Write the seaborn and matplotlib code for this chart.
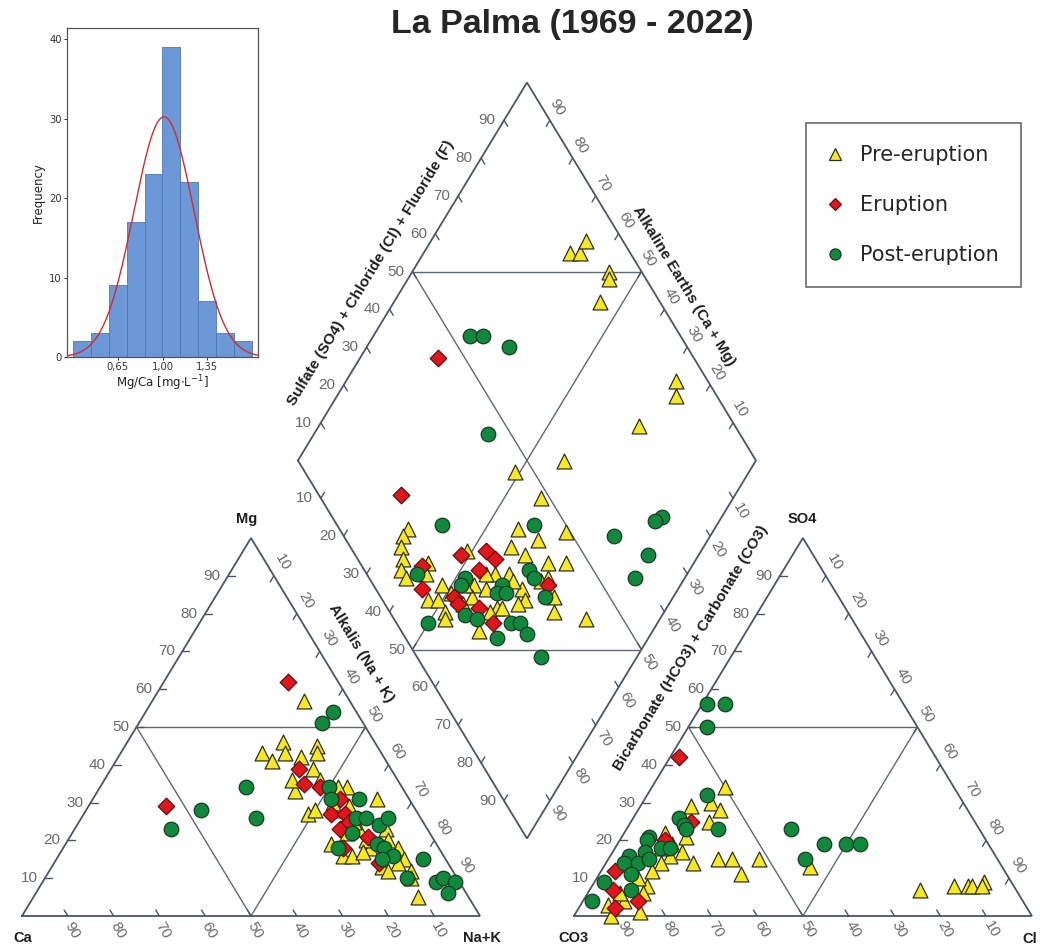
import numpy as np
import pandas as pd
import matplotlib
matplotlib.use("Agg")
import matplotlib.pyplot as plt
from matplotlib.lines import Line2D
import seaborn as sns

sns.set_style("white")
plt.rcParams["font.family"] = ["DejaVu Sans"]

# ---------------------------------------------------------------- data
# Mg/Ca ratio histogram (counts per bin)
mgca_bin_edges = [0.30, 0.44, 0.58, 0.72, 0.86, 1.00, 1.14, 1.28, 1.42, 1.56, 1.70]
mgca_counts = [2, 3, 9, 17, 23, 39, 22, 7, 3, 2]
mgca_ticks = [0.65, 1.00, 1.35]
mgca_tick_labels = ["0,65", "1,00", "1,35"]

# Cation triangle (% meq/L): Mg and Na+K (Ca = remainder)
pre_cat_mg = [57, 46, 43, 41, 43, 45, 43, 42, 39, 33, 36, 34, 34, 27, 28, 31, 19, 16, 16, 23,
              18, 15, 14, 5, 36, 29, 23, 18, 13, 25, 28, 20, 12, 30, 22, 17, 20, 12, 10]
pre_cat_nak = [33, 34, 31, 34, 36, 42, 43, 40, 44, 43, 47, 54, 52, 49, 50, 62, 58, 62, 64, 68,
               73, 76, 75, 84, 41, 57, 62, 67, 72, 60, 54, 65, 79, 53, 60, 66, 70, 74, 80]
eru_cat_mg = [62, 29, 39, 35, 34, 31, 27, 27, 23, 21, 14, 25, 18]
eru_cat_nak = [27, 17, 41, 44, 48, 54, 54, 57, 58, 65, 71, 59, 61]
post_cat_mg = [54, 51, 23, 28, 34, 26, 34, 31, 31, 26, 26, 24, 26, 22, 19, 18, 18, 16, 15, 15,
               10, 9, 10, 9, 6]
post_cat_nak = [41, 40, 21, 25, 32, 38, 50, 52, 58, 60, 62, 66, 67, 61, 68, 70, 60, 73, 71, 80,
                79, 86, 87, 90, 90]

# Anion triangle (% meq/L): SO4 and Cl (HCO3 + CO3 = remainder)
pre_an_so4 = [34, 30, 28, 25, 17, 14, 15, 15, 15, 11, 13, 7, 8, 8, 8, 9, 8, 8, 1, 29,
              21, 19, 16, 14, 0, 4, 12, 3, 6, 22, 18, 10, 6]
pre_an_cl = [16, 15, 18, 17, 15, 19, 24, 27, 33, 31, 45, 72, 79, 82, 83, 85, 85, 12, 14, 11,
             14, 12, 13, 12, 8, 9, 11, 6, 12, 9, 10, 9, 7]
eru_an_so4 = [42, 25, 20, 12, 7, 4, 2]
eru_an_cl = [2, 13, 10, 3, 5, 12, 8]
post_an_so4 = [56, 56, 50, 32, 23, 23, 19, 19, 19, 15, 26, 24, 23, 21, 20, 18, 17, 16, 14, 14,
               11, 15, 9, 7, 4, 18]
post_an_cl = [1, 5, 4, 13, 20, 36, 45, 50, 53, 43, 10, 12, 13, 6, 6, 10, 7, 4, 4, 7,
              7, 9, 2, 9, 2, 12]

# Central diamond (%): Na+K and SO4+Cl+F
pre_dia_nak = [32, 34, 34, 43, 44, 45, 72, 74, 70, 58, 49, 58, 68, 72, 84, 33, 33, 34, 36, 37,
               39, 42, 43, 47, 49, 52, 53, 49, 55, 58, 58, 61, 58, 57, 62, 63, 68, 66, 68, 67,
               63, 56, 55, 62, 74, 76, 69, 70, 64, 56, 48, 51, 63, 62, 53]
pre_dia_sc = [87, 89, 92, 93, 92, 87, 93, 91, 79, 58, 46, 48, 49, 45, 42, 15, 13, 11, 10, 8,
              8, 15, 13, 10, 12, 12, 11, 25, 22, 24, 28, 31, 35, 39, 37, 42, 41, 32, 31, 29,
              24, 20, 17, 17, 38, 36, 37, 39, 25, 26, 15, 16, 31, 22, 20]
eru_dia_nak = [17, 27, 48, 53, 56, 54, 41, 44, 52, 54, 59, 64, 71]
eru_dia_sc = [44, 18, 23, 29, 30, 25, 13, 10, 16, 16, 20, 21, 38]
post_dia_nak = [21, 24, 31, 38, 87, 86, 79, 89, 89, 79, 40, 60, 41, 52, 52, 61, 61, 63, 65, 67,
                72, 57, 60, 50, 68, 70, 73, 67]
post_dia_sc = [54, 57, 61, 45, 72, 70, 59, 64, 58, 27, 23, 43, 11, 21, 19, 28, 26, 28, 36, 36,
               36, 16, 18, 7, 25, 27, 27, 20]

tick_values = list(range(10, 100, 10))
group_labels = ["Pre-eruption", "Eruption", "Post-eruption"]

# ---------------------------------------------------------------- styling
YELLOW, RED, GREEN = "#f7e81f", "#e0161c", "#10893d"
EDGE = "#4c5562"
INNER = "#5f6874"
TICK_FONT = dict(family=["Liberation Sans Narrow", "Liberation Sans"], fontsize=11,
                 color="#6a6a6a")
TITLE_FONT = dict(family=["Liberation Sans", "DejaVu Sans"], fontweight="bold", color="#1e1e1e")

# ---------------------------------------------------------------- Piper geometry
H = np.sqrt(3) / 2          # triangle height (side = 1)
GAP = 0.205                 # spacing between the two triangles
PX_X = 458.0                # pixels per unit, horizontal
PX_Y = 378.0 / H            # pixels per unit, vertical


def cation_xy(mg, nak):
    mg = np.asarray(mg, float) / 100
    nak = np.asarray(nak, float) / 100
    return nak + mg / 2, H * mg


def anion_xy(so4, cl):
    so4 = np.asarray(so4, float) / 100
    cl = np.asarray(cl, float) / 100
    return 1 + GAP + cl + so4 / 2, H * so4


def diamond_xy(nak, sc):
    nak = np.asarray(nak, float) / 100
    sc = np.asarray(sc, float) / 100
    x0, y0 = 0.5 + GAP / 2, H * (1 + GAP)
    return x0 + 0.5 * sc + 0.5 * nak, y0 + H * sc - H * nak


def px_vec(dx, dy):
    """Screen offset in pixels (y down) -> data offset."""
    return dx / PX_X, -dy / PX_Y


def px_pos(px, py):
    return (px - 22) / PX_X, (916 - py) / PX_Y


fig = plt.figure(figsize=(10.4, 9.47), dpi=100)
ax = fig.add_axes([0, 0, 1, 1])
ax.set_xlim(-22 / PX_X, 1018 / PX_X)
ax.set_ylim(-31 / PX_Y, 916 / PX_Y)
ax.axis("off")


def outline(xy, lw=1.3, color=EDGE):
    ax.plot(xy[0], xy[1], color=color, lw=lw, zorder=1, solid_joinstyle="miter")


# outer frames
outline(cation_xy([0, 0, 100, 0], [0, 100, 0, 0]))
outline(anion_xy([0, 0, 100, 0], [0, 100, 0, 0]))
outline(diamond_xy([0, 0, 100, 100, 0], [0, 100, 100, 0, 0]))

# inner division lines
outline(cation_xy([50, 50], [0, 50]), lw=1.0, color=INNER)
outline(cation_xy([50, 0, 50], [0, 50, 50]), lw=1.0, color=INNER)
outline(anion_xy([50, 50], [0, 50]), lw=1.0, color=INNER)
outline(anion_xy([50, 0, 50], [0, 50, 50]), lw=1.0, color=INNER)
outline(diamond_xy([0, 50], [50, 100]), lw=1.0, color=INNER)
outline(diamond_xy([50, 100], [0, 50]), lw=1.0, color=INNER)
outline(diamond_xy([0, 100], [50, 50]), lw=1.0, color=INNER)
outline(diamond_xy([50, 50], [100, 0]), lw=1.0, color=INNER)

# ticks and tick labels
TICK_LEN = 7.0


def axis_ticks(xy, tick_dir, label_shift, rotation):
    tdx, tdy = px_vec(tick_dir[0] * TICK_LEN, tick_dir[1] * TICK_LEN)
    ldx, ldy = px_vec(*label_shift)
    for x, y, v in zip(xy[0], xy[1], tick_values):
        ax.plot([x, x + tdx], [y, y + tdy], color=EDGE, lw=1.0, zorder=1)
        ax.text(x + ldx, y + ldy, str(v), rotation=rotation, ha="center", va="center",
                rotation_mode="anchor", **TICK_FONT)


v = np.array(tick_values)
DL, UL, DR, UR = (-0.518, 0.855), (-0.518, -0.855), (0.518, 0.855), (0.518, -0.855)

# cation triangle: Mg (left), Na+K (right), Ca (base)
axis_ticks(cation_xy(v, 0 * v), (1, 0), (-16, 0), 0)
axis_ticks(cation_xy(100 - v, v), DL, (9, -13), -60)
axis_ticks(cation_xy(0 * v, 100 - v), UL, (4, 14), -60)
# anion triangle: SO4 (left), Cl (right), HCO3 (base)
axis_ticks(anion_xy(v, 0 * v), (1, 0), (-16, 0), 0)
axis_ticks(anion_xy(100 - v, v), DL, (9, -13), -60)
axis_ticks(anion_xy(0 * v, 100 - v), UL, (5, 13), -60)
# diamond edges
axis_ticks(diamond_xy(0 * v, v), DR, (-17, 0), 0)
axis_ticks(diamond_xy(v, 0 * v), UR, (-16, 0), 0)
axis_ticks(diamond_xy(100 - v, 100 + 0 * v), DL, (7, -13), -60)
axis_ticks(diamond_xy(100 + 0 * v, 100 - v), UL, (8, 13), -60)

# corner labels
for text, (px, py) in [("Mg", (247, 519)), ("Ca", (23, 938)), ("Na+K", (482, 938)),
                       ("SO4", (802, 519)), ("CO3", (573, 938)), ("Cl", (1030, 939))]:
    ax.text(*px_pos(px, py), text, ha="center", va="center", fontsize=10.5, **TITLE_FONT)

# axis titles
for text, (px, py), rot in [
        ("Sulfate (SO4) + Chloride (Cl) + Fluoride (F)", (371, 273), 58.7),
        ("Alkaline Earths (Ca + Mg)", (684, 286), -58.7),
        ("Alkalis (Na + K)", (361, 653), -58.7),
        ("Bicarbonate (HCO3) + Carbonate (CO3)", (691, 648), 58.7)]:
    ax.text(*px_pos(px, py), text, rotation=rot, ha="center", va="center",
            rotation_mode="anchor", fontsize=11, **TITLE_FONT)

# sample points
groups = [
    ("^", YELLOW, "#2f2f20", 115, (pre_cat_mg, pre_cat_nak), (pre_an_so4, pre_an_cl),
     (pre_dia_nak, pre_dia_sc)),
    ("D", RED, "#6b0a0a", 72, (eru_cat_mg, eru_cat_nak), (eru_an_so4, eru_an_cl),
     (eru_dia_nak, eru_dia_sc)),
    ("o", GREEN, "#163a22", 110, (post_cat_mg, post_cat_nak), (post_an_so4, post_an_cl),
     (post_dia_nak, post_dia_sc)),
]
for z, (marker, face, edge, size, cat, an, dia) in enumerate(groups):
    for fx, vals in ((cation_xy, cat), (anion_xy, an), (diamond_xy, dia)):
        x, y = fx(*vals)
        sns.scatterplot(x=x, y=y, ax=ax, marker=marker, s=size, color=face,
                        edgecolor=edge, linewidth=0.9, legend=False, zorder=3 + z)

# title
fig.text(572 / 1040, 1 - 25 / 947, "La Palma (1969 - 2022)", ha="center", va="center",
         fontsize=24.5, fontweight="bold", color="#262626",
         family=["Liberation Sans", "DejaVu Sans"])

# legend
handles = [
    Line2D([], [], marker="^", linestyle="none", markersize=8, markerfacecolor=YELLOW,
           markeredgecolor="#2f2f20", markeredgewidth=0.9),
    Line2D([], [], marker="D", linestyle="none", markersize=6.5, markerfacecolor=RED,
           markeredgecolor="#6b0a0a", markeredgewidth=0.9),
    Line2D([], [], marker="o", linestyle="none", markersize=8, markerfacecolor=GREEN,
           markeredgecolor="#163a22", markeredgewidth=0.9),
]
leg = ax.legend(handles, group_labels, loc="upper left",
                bbox_to_anchor=(806 / 1040, 1 - 123 / 947), bbox_transform=fig.transFigure,
                frameon=True, fancybox=False, prop=dict(family="DejaVu Sans", size=15),
                borderpad=1.05, labelspacing=1.45, handlelength=0.7, handletextpad=0.85,
                borderaxespad=0)
leg.get_frame().set_edgecolor("#444444")
leg.get_frame().set_linewidth(1.2)
for t in leg.get_texts():
    t.set_color("#262626")

# Mg/Ca histogram inset
hax = fig.add_axes([0.0641, 0.623, 0.1843, 0.3474])
edges = np.array(mgca_bin_edges)
centers = (edges[:-1] + edges[1:]) / 2
counts = np.array(mgca_counts)
hist_df = pd.DataFrame({"mgca": centers, "n": counts})
sns.histplot(data=hist_df, x="mgca", weights="n", bins=list(mgca_bin_edges), ax=hax,
             color="#6c98d7", edgecolor="#4f76b3", linewidth=0.6, alpha=1.0)

# normal fit of the binned distribution
n = counts.sum()
width = edges[1] - edges[0]
mu = np.sum(centers * counts) / n
sd = np.sqrt(np.sum(counts * (centers - mu) ** 2) / n)
xs = np.linspace(0.25, 1.75, 300)
ys = n * width * np.exp(-0.5 * ((xs - mu) / sd) ** 2) / (sd * np.sqrt(2 * np.pi))
hax.plot(xs, ys, color="#cf2d2d", lw=1.0, zorder=3)

hax.set_xlim(0.253, 1.747)
hax.set_ylim(0, 41.4)
hax.set_xticks(mgca_ticks)
hax.set_xticklabels(mgca_tick_labels)
hax.set_yticks([0, 10, 20, 30, 40])
hax.tick_params(axis="both", which="both", bottom=True, left=True, length=2, width=0.7,
                pad=1.5, labelsize=7.2, colors="#333333")
hax.set_xlabel("Mg/Ca [mg$\\cdot$L$^{-1}$]", fontsize=8.5, labelpad=1, color="#222222")
hax.set_ylabel("Frequency", fontsize=8.5, labelpad=3, color="#222222")
for sp in hax.spines.values():
    sp.set_color("#555555")
    sp.set_linewidth(0.9)

fig.savefig("out.png", dpi=100)
